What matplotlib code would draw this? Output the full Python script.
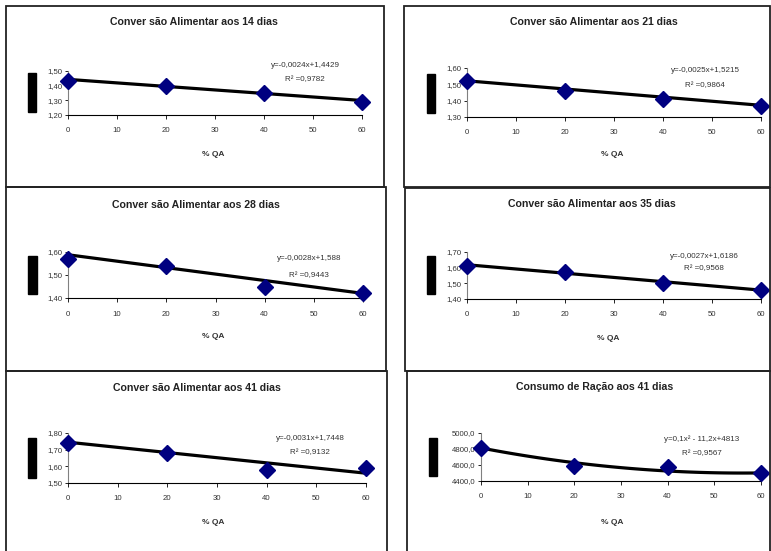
import numpy as np
import matplotlib.pyplot as plt
from matplotlib.patches import Rectangle
from matplotlib.ticker import FuncFormatter

plt.rcParams['font.family'] = ['Liberation Sans', 'DejaVu Sans']

W, H = 771, 551

# dados
qa = [0, 20, 40, 60]
titulos = ['Conver são Alimentar aos 14 dias', 'Conver são Alimentar aos 21 dias',
           'Conver são Alimentar aos 28 dias', 'Conver são Alimentar aos 35 dias',
           'Conver são Alimentar aos 41 dias', 'Consumo de Ração aos 41 dias']
ca14 = [1.43, 1.40, 1.35, 1.29]
ca21 = [1.52, 1.46, 1.41, 1.37]
ca28 = [1.57, 1.54, 1.45, 1.42]
ca35 = [1.61, 1.57, 1.50, 1.46]
ca41 = [1.74, 1.68, 1.58, 1.59]
cr41 = [4810, 4590, 4570, 4500]
valores = [ca14, ca21, ca28, ca35, ca41, cr41]
# coeficientes das linhas de tendencia (maior grau primeiro)
coefs = [[-0.0024, 1.4429], [-0.0025, 1.5215], [-0.0028, 1.588],
         [-0.0027, 1.6186], [-0.0031, 1.7448], [0.1, -11.2, 4813]]
equacoes = ['y=-0,0024x+1,4429', 'y=-0,0025x+1,5215', 'y=-0,0028x+1,588',
            'y=-0,0027x+1,6186', 'y=-0,0031x+1,7448', 'y=0,1x² - 11,2x+4813']
r2 = ['R² =0,9782', 'R² =0,9864', 'R² =0,9443', 'R² =0,9568', 'R² =0,9132', 'R² =0,9567']
ylims = [(1.2, 1.5), (1.3, 1.6), (1.4, 1.6), (1.4, 1.7), (1.5, 1.8), (4400, 5000)]
ypassos = [0.1, 0.1, 0.1, 0.1, 0.1, 200]

# posicoes em pixels
caixas = [(6, 6, 384, 187), (404, 6, 770, 187), (6, 187, 386, 371),
          (405, 188, 770, 371), (6, 371, 387, 560), (407, 371, 770, 560)]
eixos = [(68, 71, 362, 115), (467, 68, 761, 117), (68, 252, 363, 298),
         (467, 252, 761, 299), (68, 433, 366, 483), (481, 433, 761, 481)]
titulo_pos = [(194, 22), (594, 22), (196, 205), (592, 204), (197, 388), (595, 387)]
xlabel_pos = [(213, 154), (612, 155), (213, 336), (608, 339), (213, 522), (612, 522)]
eq_pos = [(305, 65, 80), (705, 71, 86), (309, 259, 276), (704, 256, 269),
          (310, 438, 453), (702, 439, 454)]
blocos = [(28, 73, 36, 112), (427, 74, 435, 113), (28, 256, 37, 294),
          (427, 256, 435, 294), (28, 438, 36, 478), (429, 438, 437, 476)]


def fx(x):
    return x / W


def fy(y):
    return 1 - y / H


fig = plt.figure(figsize=(W / 100, H / 100), dpi=100)

for i in range(6):
    x0, y0, x1, y1 = caixas[i]
    fig.add_artist(Rectangle((fx(x0), fy(y1)), fx(x1) - fx(x0), fy(y0) - fy(y1),
                             transform=fig.transFigure, fill=False, lw=1.3,
                             edgecolor='#222222', clip_on=False))
    b0, b1, b2, b3 = blocos[i]
    fig.add_artist(Rectangle((fx(b0), fy(b3)), fx(b2) - fx(b0), fy(b1) - fy(b3),
                             transform=fig.transFigure, color='black'))

    l, t, r, b = eixos[i]
    ax = fig.add_axes([fx(l), fy(b), fx(r) - fx(l), fy(t) - fy(b)])
    xs = np.linspace(0, 60, 61)
    ax.plot(xs, np.polyval(coefs[i], xs), color='black', lw=2.3, zorder=2)
    ax.plot(qa, valores[i], 'D', color='#000080', ms=8, zorder=3, clip_on=False)
    ax.set_xlim(0, 60)
    ax.set_ylim(*ylims[i])
    ax.set_xticks(range(0, 61, 10))
    ax.set_yticks(np.arange(ylims[i][0], ylims[i][1] + ypassos[i] / 2, ypassos[i]))
    ax.spines['top'].set_visible(False)
    ax.spines['right'].set_visible(False)
    ax.spines['left'].set_color('#808080')
    ax.spines['left'].set_linewidth(0.8)
    ax.spines['bottom'].set_linewidth(0.8)
    ax.tick_params(axis='x', length=3, width=0.6, pad=6, labelsize=5.6, labelcolor='#333333')
    ax.tick_params(axis='y', length=2, width=0.6, pad=2, labelsize=5.6, labelcolor='#333333')
    if i == 5:
        ax.yaxis.set_major_formatter(FuncFormatter(lambda v, p: f'{v:.1f}'.replace('.', ',')))
    else:
        ax.yaxis.set_major_formatter(FuncFormatter(lambda v, p: f'{v:.2f}'.replace('.', ',')))
    ax.patch.set_visible(False)

    tx, ty = titulo_pos[i]
    fig.text(fx(tx), fy(ty), titulos[i], ha='center', va='center', fontsize=7.6,
             fontweight='bold', color='#222222')
    lx, ly = xlabel_pos[i]
    fig.text(fx(lx), fy(ly), '% QA', ha='center', va='center', fontsize=6,
             fontweight='bold', color='#333333')
    ex, ey1, ey2 = eq_pos[i]
    fig.text(fx(ex), fy(ey1), equacoes[i], ha='center', va='center', fontsize=5.8, color='#333333')
    fig.text(fx(ex), fy(ey2), r2[i], ha='center', va='center', fontsize=5.8, color='#333333')

fig.savefig('out.png', dpi=100)
